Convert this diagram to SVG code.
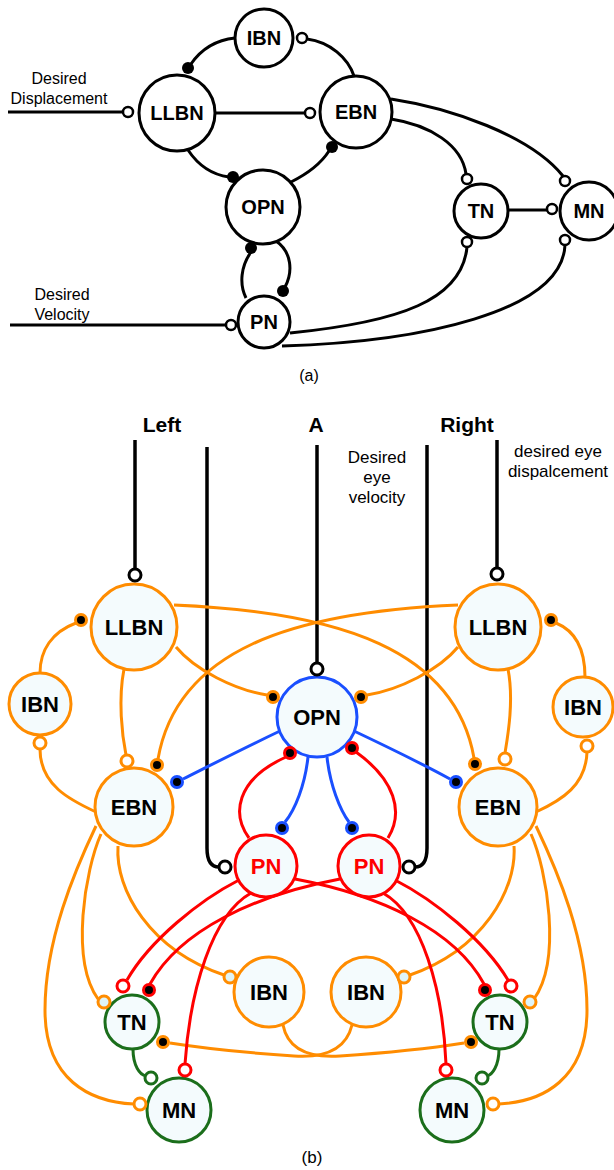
<svg xmlns="http://www.w3.org/2000/svg" width="614" height="1170" viewBox="0 0 614 1170">
<style>
.bg{fill:#fff}
.an{fill:#fff;stroke:#000;stroke-width:3}
.al{fill:none;stroke:#000;stroke-width:3}
.ao{fill:#fff;stroke:#000;stroke-width:2.5}
.af{fill:#000}
.at{font-family:"Liberation Sans",Arial,sans-serif;font-weight:bold;font-size:20px;text-anchor:middle}
.lb{font-family:"Liberation Sans",Arial,sans-serif;font-size:16px;text-anchor:middle}
.lb17{font-family:"Liberation Sans",Arial,sans-serif;font-size:17px;text-anchor:middle}
.hd{font-family:"Liberation Sans",Arial,sans-serif;font-weight:bold;font-size:21px;text-anchor:middle}
.bt{font-family:"Liberation Sans",Arial,sans-serif;font-weight:bold;font-size:22px;text-anchor:middle}
.on{fill:#f4fbfd;stroke:#ff8c00;stroke-width:3}
.rn{fill:#f4fbfd;stroke:#ff0000;stroke-width:3}
.bn{fill:#f4fbfd;stroke:#1a4fff;stroke-width:3}
.gn{fill:#f4fbfd;stroke:#1b6e1b;stroke-width:3}
.ol{fill:none;stroke:#ff8c00;stroke-width:3}
.rl{fill:none;stroke:#ff0000;stroke-width:3}
.bl{fill:none;stroke:#1a4fff;stroke-width:3}
.gl{fill:none;stroke:#1b6e1b;stroke-width:3}
.kl{fill:none;stroke:#000;stroke-width:3.5}
.oo{fill:#fff;stroke:#ff8c00;stroke-width:3}
.oi{fill:#dff4f8;stroke:#ff8c00;stroke-width:3}
.ro{fill:#fff;stroke:#ff0000;stroke-width:3}
.go{fill:#fff;stroke:#1b6e1b;stroke-width:3}
.ko{fill:#fff;stroke:#000;stroke-width:3}
.of{fill:#000;stroke:#ff8c00;stroke-width:3}
.bf{fill:#000;stroke:#1a4fff;stroke-width:3}
.rf{fill:#000;stroke:#ff0000;stroke-width:3}
</style>
<rect class="bg" x="0" y="0" width="614" height="1170"/>

<!-- ===== (a) ===== -->
<g id="a-connectors">
<path class="al" d="M8 112 H123"/>
<path class="al" d="M215 113 H305"/>
<path class="al" d="M191 64 C202 48 216 40 235 38"/>
<path class="al" d="M307 39 C330 42 348 58 354 76"/>
<path class="al" d="M188 150 C200 168 214 175 229 177"/>
<path class="al" d="M329 151 C320 165 305 175 291 182"/>
<path class="al" d="M391 99 C450 108 530 135 563 176"/>
<path class="al" d="M391 119 C430 125 462 145 466 174"/>
<path class="al" d="M508 210 H547"/>
<path class="al" d="M251 252 C241 266 239 284 246 298"/>
<path class="al" d="M276 241 C292 252 293 272 285 287"/>
<path class="al" d="M10 325 H226"/>
<path class="al" d="M290 333 C400 322 462 300 467 247"/>
<path class="al" d="M282 346 C420 342 562 312 565 245"/>
</g>
<g id="a-IBN"><circle class="an" cx="264" cy="38" r="29"/><text class="at" x="264" y="45">IBN</text></g>
<g id="a-LLBN"><circle class="an" cx="177" cy="113" r="38"/><text class="at" x="177" y="120">LLBN</text></g>
<g id="a-EBN"><circle class="an" cx="356" cy="112" r="36"/><text class="at" x="356" y="119">EBN</text></g>
<g id="a-OPN"><circle class="an" cx="263" cy="207" r="37"/><text class="at" x="263" y="214">OPN</text></g>
<g id="a-TN"><circle class="an" cx="481" cy="211" r="27"/><text class="at" x="481" y="218">TN</text></g>
<g id="a-MN"><circle class="an" cx="589" cy="211" r="29"/><text class="at" x="589" y="218">MN</text></g>
<g id="a-PN"><circle class="an" cx="264" cy="322" r="26"/><text class="at" x="264" y="329">PN</text></g>
<g id="a-terminals">
<circle class="ao" cx="128" cy="112" r="5"/>
<circle class="ao" cx="310" cy="113" r="5"/>
<circle class="ao" cx="302" cy="38" r="5"/>
<circle class="ao" cx="467" cy="179" r="5"/>
<circle class="ao" cx="467" cy="242" r="5"/>
<circle class="ao" cx="552" cy="209" r="5"/>
<circle class="ao" cx="565" cy="181" r="5"/>
<circle class="ao" cx="565" cy="240" r="5"/>
<circle class="ao" cx="231" cy="325" r="5"/>
<circle class="af" cx="188" cy="68" r="6"/>
<circle class="af" cx="233" cy="177" r="6"/>
<circle class="af" cx="332" cy="147" r="6"/>
<circle class="af" cx="251" cy="248" r="6"/>
<circle class="af" cx="283" cy="291" r="6"/>
</g>
<g id="a-labels">
<text class="lb" x="59" y="84">Desired</text>
<text class="lb" x="59" y="104">Displacement</text>
<text class="lb" x="62" y="300">Desired</text>
<text class="lb" x="62" y="320">Velocity</text>
<text class="lb" x="309" y="381">(a)</text>
</g>

<!-- ===== (b) ===== -->
<g id="b-connectors">
<path class="kl" d="M135 440 V569"/>
<path class="kl" d="M207 447 V848 Q207 867 219 867"/>
<path class="kl" d="M317 445 V663"/>
<path class="kl" d="M427 445 V848 Q427 867 415 867"/>
<path class="kl" d="M497 440 V568"/>

<path class="ol" d="M174 605 C340 612 455 650 474 758"/>
<path class="ol" d="M458 605 C292 612 177 650 158 759"/>
<path class="ol" d="M176 647 C195 670 235 690 267 695"/>
<path class="ol" d="M458 647 C439 670 399 690 367 695"/>
<path class="ol" d="M124 669 C118 700 122 735 126 755"/>
<path class="ol" d="M508 669 C514 700 508 735 505 753"/>
<path class="ol" d="M76 623 C52 632 40 650 40 673"/>
<path class="ol" d="M556 623 C578 632 585 652 585 677"/>
<path class="ol" d="M40 749 C40 785 70 800 96 812"/>
<path class="ol" d="M587 752 C586 785 562 800 536 812"/>
<path class="ol" d="M96 826 C75 870 45 940 45 1010 C45 1080 90 1102 134 1104"/>
<path class="ol" d="M101 834 C85 870 70 960 98 999"/>
<path class="ol" d="M118 846 C115 890 150 950 224 975"/>
<path class="ol" d="M536 826 C557 870 587 940 587 1010 C587 1080 542 1102 499 1104"/>
<path class="ol" d="M531 834 C547 870 562 960 534 999"/>
<path class="ol" d="M514 846 C517 890 482 950 410 975"/>
<path class="ol" d="M283 1025 C288 1050 310 1058 340 1056 C400 1052 445 1046 464 1043"/>
<path class="ol" d="M352 1025 C346 1050 324 1058 294 1056 C234 1052 189 1046 170 1043"/>

<path class="bl" d="M280 731 C240 750 205 768 183 779"/>
<path class="bl" d="M354 731 C394 750 430 768 450 779"/>
<path class="bl" d="M308 757 C305 785 295 810 285 822"/>
<path class="bl" d="M327 757 C330 785 340 810 349 822"/>

<path class="rl" d="M249 838 C232 815 235 780 286 757"/>
<path class="rl" d="M388 838 C404 812 395 780 356 752"/>
<path class="rl" d="M239 880 C200 900 150 940 127 980"/>
<path class="rl" d="M251 893 C212 915 190 990 185 1064"/>
<path class="rl" d="M295 879 C380 895 455 930 484 984"/>
<path class="rl" d="M340 879 C255 895 180 930 150 984"/>
<path class="rl" d="M395 880 C434 900 484 940 508 980"/>
<path class="rl" d="M383 893 C422 915 443 990 446 1064"/>

<path class="gl" d="M133 1049 C133 1066 140 1075 146 1076"/>
<path class="gl" d="M499 1049 C499 1066 492 1075 487 1076"/>
</g>

<g id="b-LLBN-L"><circle class="on" cx="134" cy="627" r="43"/><text class="bt" x="134" y="635">LLBN</text></g>
<g id="b-LLBN-R"><circle class="on" cx="498" cy="627" r="43"/><text class="bt" x="498" y="635">LLBN</text></g>
<g id="b-IBN-SL"><circle class="on" cx="40" cy="704" r="31"/><text class="bt" x="40" y="712">IBN</text></g>
<g id="b-IBN-SR"><circle class="on" cx="583" cy="707" r="30"/><text class="bt" x="583" y="715">IBN</text></g>
<g id="b-EBN-L"><circle class="on" cx="134" cy="807" r="39"/><text class="bt" x="134" y="815">EBN</text></g>
<g id="b-EBN-R"><circle class="on" cx="498" cy="807" r="39"/><text class="bt" x="498" y="815">EBN</text></g>
<g id="b-OPN"><circle class="bn" cx="317" cy="717" r="40"/><text class="bt" x="317" y="725">OPN</text></g>
<g id="b-PN-L"><circle class="rn" cx="266" cy="866" r="31"/><text class="bt" x="266" y="874" fill="#ff0000">PN</text></g>
<g id="b-PN-R"><circle class="rn" cx="369" cy="866" r="31"/><text class="bt" x="369" y="874" fill="#ff0000">PN</text></g>
<g id="b-IBN-BL"><circle class="on" cx="269" cy="992" r="35"/><text class="bt" x="269" y="1000">IBN</text></g>
<g id="b-IBN-BR"><circle class="on" cx="366" cy="992" r="35"/><text class="bt" x="366" y="1000">IBN</text></g>
<g id="b-TN-L"><circle class="gn" cx="132" cy="1022" r="27"/><text class="bt" x="132" y="1030">TN</text></g>
<g id="b-TN-R"><circle class="gn" cx="500" cy="1022" r="27"/><text class="bt" x="500" y="1030">TN</text></g>
<g id="b-MN-L"><circle class="gn" cx="179" cy="1110" r="32"/><text class="bt" x="179" y="1118">MN</text></g>
<g id="b-MN-R"><circle class="gn" cx="452" cy="1110" r="32"/><text class="bt" x="452" y="1118">MN</text></g>

<g id="b-terminals">
<circle class="ko" cx="135" cy="575" r="6"/>
<circle class="ko" cx="497" cy="574" r="6"/>
<circle class="ko" cx="317" cy="669" r="6"/>
<circle class="ko" cx="225" cy="867" r="6"/>
<circle class="ko" cx="409" cy="867" r="6"/>
<circle class="of" cx="81" cy="620" r="5.5"/>
<circle class="of" cx="551" cy="620" r="5.5"/>
<circle class="of" cx="273" cy="697" r="5.5"/>
<circle class="of" cx="361" cy="697" r="5.5"/>
<circle class="of" cx="157" cy="765" r="5.5"/>
<circle class="of" cx="475" cy="764" r="5.5"/>
<circle class="of" cx="163" cy="1042" r="5.5"/>
<circle class="of" cx="471" cy="1042" r="5.5"/>
<circle class="oo" cx="127" cy="761" r="6"/>
<circle class="oo" cx="505" cy="759" r="6"/>
<circle class="oo" cx="40" cy="743" r="6"/>
<circle class="oo" cx="587" cy="746" r="6"/>
<circle class="oi" cx="230" cy="977" r="6"/>
<circle class="oi" cx="404" cy="977" r="6"/>
<circle class="oi" cx="104" cy="1002" r="6"/>
<circle class="oi" cx="530" cy="1002" r="6"/>
<circle class="oo" cx="140" cy="1104" r="6"/>
<circle class="oo" cx="493" cy="1104" r="6"/>
<circle class="bf" cx="177" cy="782" r="5.5"/>
<circle class="bf" cx="456" cy="782" r="5.5"/>
<circle class="bf" cx="282" cy="828" r="5.5"/>
<circle class="bf" cx="352" cy="828" r="5.5"/>
<circle class="rf" cx="290" cy="753" r="5.5"/>
<circle class="rf" cx="352" cy="748" r="5.5"/>
<circle class="rf" cx="149" cy="990" r="5.5"/>
<circle class="rf" cx="485" cy="990" r="5.5"/>
<circle class="ro" cx="123" cy="986" r="6"/>
<circle class="ro" cx="511" cy="986" r="6"/>
<circle class="ro" cx="185" cy="1070" r="6"/>
<circle class="ro" cx="446" cy="1070" r="6"/>
<circle class="go" cx="151" cy="1078" r="6"/>
<circle class="go" cx="482" cy="1078" r="6"/>
</g>

<g id="b-labels">
<text class="hd" x="162" y="432">Left</text>
<text class="hd" x="316" y="432">A</text>
<text class="hd" x="467" y="432">Right</text>
<text class="lb17" x="377" y="463">Desired</text>
<text class="lb17" x="377" y="483">eye</text>
<text class="lb17" x="377" y="503">velocity</text>
<text class="lb17" x="558" y="457">desired eye</text>
<text class="lb17" x="558" y="477">dispalcement</text>
<text class="lb17" x="312" y="1163">(b)</text>
</g>
</svg>
